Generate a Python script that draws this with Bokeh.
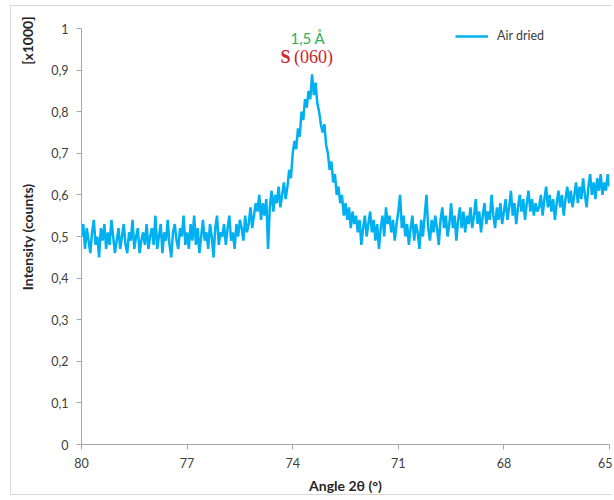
import numpy as np
from bokeh.plotting import figure
from bokeh.models import Range1d, FixedTicker, CustomJSTickFormatter, Label, Legend, LegendItem
from bokeh.embed import file_html
from bokeh.resources import INLINE

# Angle grid (2theta, degrees), step 0.05 from 80 down to 65
angle_start = 80.0
angle_step = -0.05
intensity = [
    # 80.00 - 79.05
    0.50, 0.53, 0.47, 0.52, 0.49, 0.46, 0.51, 0.54, 0.48, 0.50, 0.45, 0.52, 0.49, 0.53, 0.47, 0.51, 0.48, 0.54, 0.50, 0.46,
    # 79.00 - 78.05
    0.49, 0.52, 0.47, 0.50, 0.53, 0.48, 0.46, 0.51, 0.49, 0.54, 0.47, 0.50, 0.52, 0.46, 0.49, 0.51, 0.48, 0.53, 0.47, 0.50,
    # 78.00 - 77.05
    0.52, 0.48, 0.55, 0.47, 0.50, 0.53, 0.46, 0.51, 0.49, 0.54, 0.48, 0.45, 0.51, 0.53, 0.49, 0.47, 0.52, 0.50, 0.55, 0.48,
    # 77.00 - 76.05
    0.51, 0.47, 0.53, 0.49, 0.55, 0.48, 0.52, 0.46, 0.50, 0.54, 0.49, 0.51, 0.47, 0.53, 0.50, 0.45, 0.52, 0.55, 0.48, 0.51,
    # 76.00 - 75.05
    0.50, 0.53, 0.48, 0.52, 0.55, 0.49, 0.51, 0.47, 0.53, 0.50, 0.54, 0.52, 0.49, 0.55, 0.51, 0.53, 0.57, 0.52, 0.55, 0.58,
    # 75.00 - 74.05
    0.56, 0.60, 0.54, 0.58, 0.55, 0.59, 0.47, 0.57, 0.61, 0.56, 0.60, 0.58, 0.62, 0.57, 0.60, 0.63, 0.59, 0.62, 0.66, 0.64,
    # 74.00 - 73.05
    0.70, 0.73, 0.71, 0.76, 0.74, 0.80, 0.78, 0.83, 0.81, 0.85, 0.83, 0.89, 0.84, 0.87, 0.82, 0.80, 0.77, 0.75, 0.77, 0.72,
    # 73.00 - 72.05
    0.70, 0.66, 0.68, 0.63, 0.65, 0.60, 0.62, 0.58, 0.60, 0.55, 0.58, 0.54, 0.57, 0.52, 0.56, 0.53, 0.55, 0.51, 0.54, 0.48,
    # 72.00 - 71.05
    0.52, 0.55, 0.50, 0.53, 0.56, 0.51, 0.54, 0.49, 0.53, 0.47, 0.52, 0.55, 0.50, 0.57, 0.53, 0.55, 0.51, 0.54, 0.49, 0.53,
    # 71.00 - 70.05
    0.56, 0.60, 0.52, 0.55, 0.50, 0.53, 0.48, 0.52, 0.55, 0.49, 0.53, 0.51, 0.47, 0.54, 0.50, 0.55, 0.60, 0.52, 0.49, 0.54,
    # 70.00 - 69.05
    0.51, 0.55, 0.52, 0.48, 0.54, 0.57, 0.52, 0.55, 0.50, 0.53, 0.58, 0.52, 0.55, 0.49, 0.54, 0.57, 0.52, 0.56, 0.51, 0.55,
    # 69.00 - 68.05
    0.53, 0.57, 0.52, 0.55, 0.59, 0.53, 0.56, 0.51, 0.55, 0.58, 0.53, 0.56, 0.54, 0.60, 0.55, 0.52, 0.57, 0.54, 0.58, 0.53,
    # 68.00 - 67.05
    0.56, 0.59, 0.54, 0.57, 0.61, 0.55, 0.58, 0.53, 0.57, 0.60, 0.56, 0.59, 0.54, 0.58, 0.61, 0.56, 0.59, 0.55, 0.58, 0.56,
    # 67.00 - 66.05
    0.57, 0.60, 0.55, 0.59, 0.62, 0.57, 0.60, 0.56, 0.59, 0.54, 0.58, 0.61, 0.57, 0.60, 0.55, 0.59, 0.62, 0.58, 0.61, 0.57,
    # 66.00 - 65.00
    0.60, 0.63, 0.58, 0.62, 0.59, 0.64, 0.60, 0.57, 0.62, 0.65, 0.60, 0.63, 0.59, 0.64, 0.61, 0.65, 0.60, 0.63, 0.61, 0.65,
    0.62,
]
angle = [round(angle_start + i * angle_step, 2) for i in range(len(intensity))]

x_ticks = [80, 77, 74, 71, 68, 65]
y_ticks = [0, 0.1, 0.2, 0.3, 0.4, 0.5, 0.6, 0.7, 0.8, 0.9, 1]
series_name = "Air dried"
y_title = "Intensity (counts)"
y_unit = "[x1000]"
x_title = "Angle 2θ (°)"
peak_angle = 73.57
peak_d = "1,5 Å"
peak_phase = "S"
peak_hkl = "(060)"

FONT = "Lato"
AXIS_GRAY = "#A6A6A6"
FRAME_GRAY = "#D9D9D9"

W, H = 612, 496
ML, MR, MT, MB = 81, 3, 28, 52
frame_h = H - MT - MB

p = figure(width=W, height=H, output_backend="svg", toolbar_location=None,
           x_range=Range1d(80, 65), y_range=Range1d(0, 1),
           min_border_left=ML, min_border_right=MR, min_border_top=MT, min_border_bottom=MB)
p.outline_line_color = None
p.xgrid.visible = False
p.ygrid.visible = False
p.border_fill_color = None
p.background_fill_color = "white"
# thin chart-area border drawn as CSS background lines behind the canvas
p.styles = {
    "background": (
        f"linear-gradient({FRAME_GRAY},{FRAME_GRAY}) 10px 5px / 1px 490px no-repeat,"
        f"linear-gradient({FRAME_GRAY},{FRAME_GRAY}) 10px 5px / 700px 1px no-repeat,"
        f"linear-gradient({FRAME_GRAY},{FRAME_GRAY}) 10px 494px / 700px 1px no-repeat,"
        "white"
    )
}

r = p.line(angle, intensity, line_color="#00B0F0", line_width=2.5)

# axes
for ax in (p.xaxis[0], p.yaxis[0]):
    ax.axis_line_color = AXIS_GRAY
    ax.major_tick_line_color = AXIS_GRAY
    ax.major_tick_out = 5
    ax.major_tick_in = 0
    ax.minor_tick_line_color = None
    ax.major_label_text_font = FONT
    ax.major_label_text_font_size = "12.5px"
    ax.major_label_text_color = "#404040"
    ax.axis_label_text_font = FONT
    ax.axis_label_text_font_style = "bold"
    ax.axis_label_text_font_size = "14px"
    ax.axis_label_text_color = "#262626"

p.xaxis.ticker = FixedTicker(ticks=x_ticks)
p.yaxis.ticker = FixedTicker(ticks=y_ticks)
p.xaxis.axis_label = x_title
# the unit "[x1000]" sits at the top end of the same vertical text line
NB = "\u00a0"
p.yaxis.axis_label = NB * 49 + y_title + NB * 35 + y_unit
p.xaxis.major_label_standoff = 8
p.xaxis.axis_label_standoff = 6
p.yaxis.major_label_standoff = 8
p.yaxis.axis_label_standoff = 12
p.yaxis.formatter = CustomJSTickFormatter(code="""
if (Math.abs(tick) < 1e-9) return '0';
if (Math.abs(tick - 1) < 1e-9) return '1';
return tick.toFixed(1).replace('.', ',');
""")

# peak annotation
p.add_layout(Label(x=peak_angle, y=0.978, text=peak_d, text_font=FONT,
                   text_font_size="15px", text_color="#2EAF5B",
                   text_align="center", text_baseline="middle"))
p.add_layout(Label(x=74.06, y=0.932, text=peak_phase, text_font="Liberation Serif",
                   text_font_style="bold", text_font_size="18px", text_color="#C8272D",
                   text_align="right", text_baseline="middle"))
p.add_layout(Label(x=73.96, y=0.932, text=peak_hkl, text_font="Liberation Serif",
                   text_font_size="18px", text_color="#C8272D",
                   text_align="left", text_baseline="middle"))

legend = Legend(items=[LegendItem(label=series_name, renderers=[r])],
                location=(374, frame_h - 15), padding=0, margin=0, spacing=0,
                glyph_width=33, glyph_height=14, label_standoff=9, label_height=14,
                label_text_font=FONT, label_text_font_size="12.5px",
                label_text_color="#404040", border_line_color=None,
                background_fill_alpha=0)
p.add_layout(legend)

open("out.html", "w").write(file_html(p, INLINE))
